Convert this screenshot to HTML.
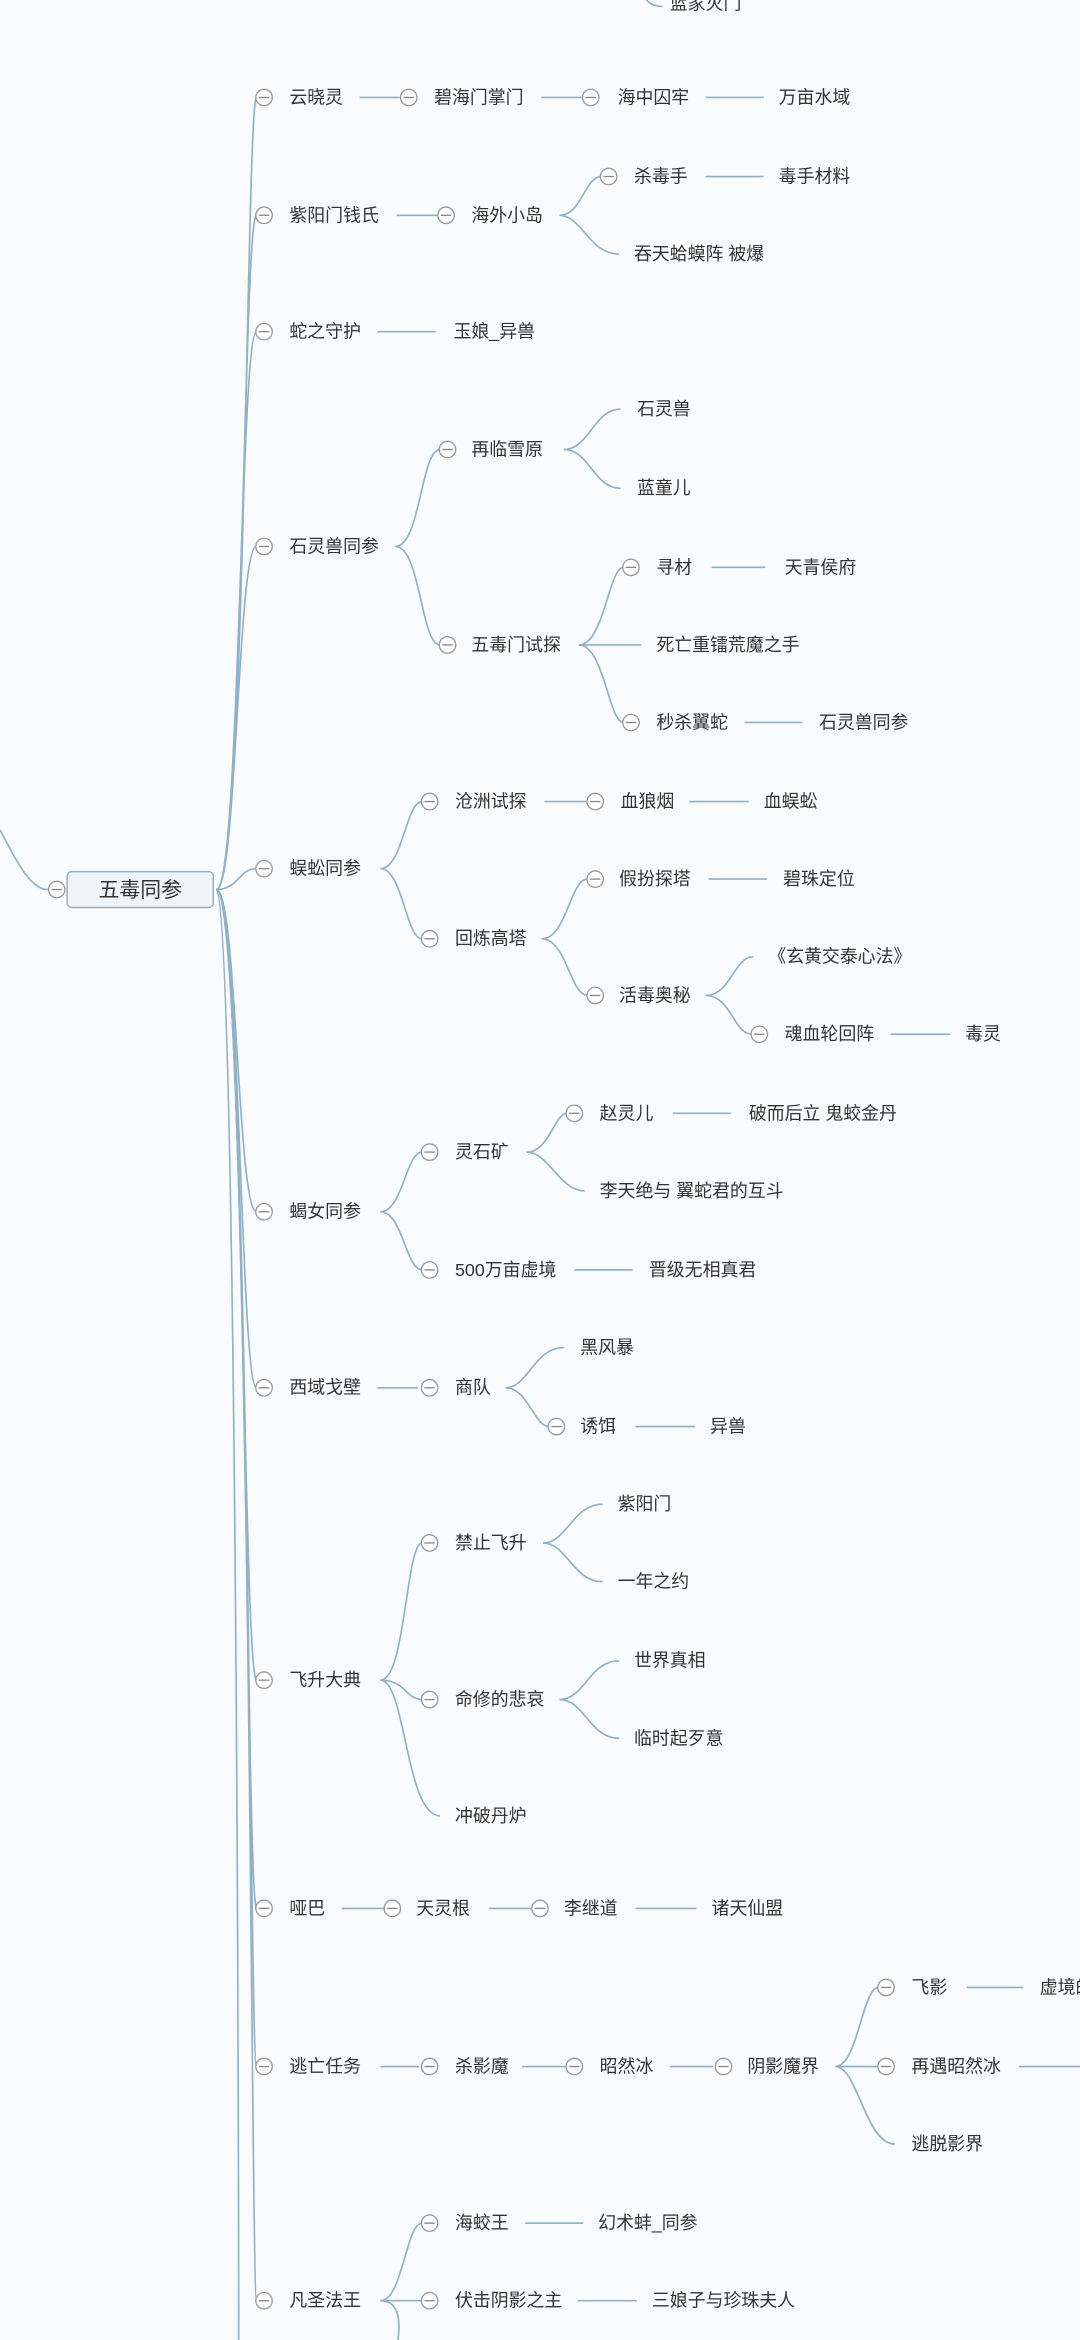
<!DOCTYPE html>
<html><head><meta charset="utf-8"><style>
html,body{margin:0;padding:0;background:#fafbfc;}
svg{display:block}
text{font-family:"Liberation Sans","Noto Sans CJK SC",sans-serif;font-size:12px;fill:#333;}
.l{fill:none;stroke:#8fb0c7;stroke-width:1.1}
.c circle{fill:#fff;stroke:#999;stroke-width:0.9}
.c line{stroke:#888;stroke-width:0.9}
</style></head><body>
<svg width="1080" height="2340" viewBox="0 0 724 1568" xmlns="http://www.w3.org/2000/svg">
<defs><g id="m" class="c"><circle cx="0" cy="0" r="5.5"/><line x1="-3.5" y1="0" x2="3.5" y2="0"/></g></defs>
<!-- top -->
<path class="l" d="M430 -8 C432 0,436 4,444 4"/>
<text x="449" y="6">蓝家灭门</text>
<!-- root left -->
<path class="l" d="M0 556 C10 575,20 596,32 596"/>
<!-- trunk connectors -->
<g class="l">
<path d="M145 596 C165 596,165 65,172 65"/>
<path d="M145 596 C163 596,163 144,172 144"/>
<path d="M145 596 C161 596,161 222,172 222"/>
<path d="M145 596 C159 596,159 366,172 366"/>
<path d="M145 596 C160 596,160 582,172 582"/>
<path d="M145 596 C159 596,159 812,172 812"/>
<path d="M145 596 C161 596,161 930,172 930"/>
<path d="M145 596 C163 596,163 1126,172 1126"/>
<path d="M145 596 C165 596,165 1279,172 1279"/>
<path d="M145 596 C167 596,167 1385,172 1385"/>
<path d="M145 596 C168 596,168 1542,172 1542"/>
<path d="M145 596 C158 596,160 1400,160 1570"/>
</g>
<rect x="45" y="584" width="98" height="24" rx="3" fill="#eef4f8" stroke="#8fb0c7"/>
<text x="94" y="601" text-anchor="middle" style="font-size:14px">五毒同参</text>
<use href="#m" x="38" y="596"/>
<!-- straight lines -->
<g class="l">
<path d="M241 65H268M363 65H390M473 65H512"/>
<path d="M266 144H293M473 118H512"/>
<path d="M253 222H292"/>
<path d="M477 380H513M499 484H538"/>
<path d="M365 537H393M462 537H502M475 589H514M597 693H637"/>
<path d="M451 746H490M385 851H424"/>
<path d="M253 930H280M426 956H466"/>
<path d="M229 1279H257M328 1279H356M426 1279H467"/>
<path d="M255 1385H281M350 1385H379M449 1385H478M648 1332H686M683 1385H724"/>
<path d="M352 1490H391M387 1542H427"/>
</g>
<!-- braces -->
<g class="l">
<path d="M375 144 C390 144,392 118,403 118"/><path d="M375 144 C390 144,395 170,415 170"/>
<path d="M265 366 C282 366,282 301,295 301"/><path d="M265 366 C282 366,282 432,295 432"/>
<path d="M378 301 C395 301,398 274,416 274"/><path d="M378 301 C395 301,398 327,416 327"/>
<path d="M388 432 C405 432,408 380,418 380"/><path d="M388 432H430"/><path d="M388 432 C405 432,408 484,418 484"/>
<path d="M255 582 C270 582,272 537,283 537"/><path d="M255 582 C270 582,272 629,283 629"/>
<path d="M363 629 C380 629,382 589,394 589"/><path d="M363 629 C380 629,382 667,394 667"/>
<path d="M473 667 C490 667,492 641,505 641"/><path d="M473 667 C490 667,492 693,504 693"/>
<path d="M255 812 C270 812,272 772,283 772"/><path d="M255 812 C270 812,272 851,283 851"/>
<path d="M353 772 C368 772,372 746,380 746"/><path d="M353 772 C368 772,375 798,392 798"/>
<path d="M339 930 C354 930,358 903,378 903"/><path d="M339 930 C354 930,358 956,368 956"/>
<path d="M255 1126 C272 1126,272 1034,283 1034"/><path d="M255 1126 C272 1126,272 1139,283 1139"/><path d="M255 1126 C272 1126,272 1217,295 1217"/>
<path d="M364 1034 C380 1034,384 1008,404 1008"/><path d="M364 1034 C380 1034,384 1060,404 1060"/>
<path d="M375 1139 C392 1139,395 1113,415 1113"/><path d="M375 1139 C392 1139,395 1165,415 1165"/>
<path d="M560 1385 C575 1385,578 1332,589 1332"/><path d="M560 1385H589"/><path d="M560 1385 C575 1385,580 1437,600 1437"/>
<path d="M255 1542 C270 1542,272 1490,283 1490"/><path d="M255 1542H283"/><path d="M255 1542 C270 1542,268 1560,266 1575"/>
</g>
<!-- circles -->
<g>
<use href="#m" x="177" y="65"/><use href="#m" x="274" y="65"/><use href="#m" x="396" y="65"/>
<use href="#m" x="177" y="144"/><use href="#m" x="299" y="144"/><use href="#m" x="408" y="118"/>
<use href="#m" x="177" y="222"/>
<use href="#m" x="177" y="366"/><use href="#m" x="300" y="301"/><use href="#m" x="300" y="432"/><use href="#m" x="423" y="380"/><use href="#m" x="423" y="484"/>
<use href="#m" x="177" y="582"/><use href="#m" x="288" y="537"/><use href="#m" x="399" y="537"/><use href="#m" x="288" y="629"/><use href="#m" x="399" y="589"/><use href="#m" x="399" y="667"/><use href="#m" x="509" y="693"/>
<use href="#m" x="177" y="812"/><use href="#m" x="288" y="772"/><use href="#m" x="385" y="746"/><use href="#m" x="288" y="851"/>
<use href="#m" x="177" y="930"/><use href="#m" x="288" y="930"/><use href="#m" x="373" y="956"/>
<use href="#m" x="177" y="1126"/><use href="#m" x="288" y="1034"/><use href="#m" x="288" y="1139"/>
<use href="#m" x="177" y="1279"/><use href="#m" x="263" y="1279"/><use href="#m" x="362" y="1279"/>
<use href="#m" x="177" y="1385"/><use href="#m" x="288" y="1385"/><use href="#m" x="385" y="1385"/><use href="#m" x="485" y="1385"/><use href="#m" x="594" y="1332"/><use href="#m" x="594" y="1385"/>
<use href="#m" x="177" y="1542"/><use href="#m" x="288" y="1490"/><use href="#m" x="288" y="1542"/>
</g>
<!-- texts -->
<g>
<text x="194" y="69">云晓灵</text><text x="291" y="69">碧海门掌门</text><text x="414" y="69">海中囚牢</text><text x="522" y="69">万亩水域</text>
<text x="194" y="148">紫阳门钱氏</text><text x="316" y="148">海外小岛</text><text x="425" y="122">杀毒手</text><text x="522" y="122">毒手材料</text><text x="425" y="174">吞天蛤蟆阵 被爆</text>
<text x="194" y="226">蛇之守护</text><text x="304" y="226">玉娘_异兽</text>
<text x="194" y="370">石灵兽同参</text><text x="316" y="305">再临雪原</text><text x="427" y="278">石灵兽</text><text x="427" y="331">蓝童儿</text>
<text x="316" y="436">五毒门试探</text><text x="440" y="384">寻材</text><text x="526" y="384">天青侯府</text><text x="440" y="436">死亡重镭荒魔之手</text><text x="440" y="488">秒杀翼蛇</text><text x="549" y="488">石灵兽同参</text>
<text x="194" y="586">蜈蚣同参</text><text x="305" y="541">沧洲试探</text><text x="416" y="541">血狼烟</text><text x="512" y="541">血蜈蚣</text>
<text x="305" y="633">回炼高塔</text><text x="415" y="593">假扮探塔</text><text x="525" y="593">碧珠定位</text><text x="415" y="671">活毒奥秘</text><text x="515" y="645">《玄黄交泰心法》</text><text x="526" y="697">魂血轮回阵</text><text x="647" y="697">毒灵</text>
<text x="194" y="816">蝎女同参</text><text x="305" y="776">灵石矿</text><text x="402" y="750">赵灵儿</text><text x="502" y="750">破而后立 鬼蛟金丹</text><text x="402" y="802">李天绝与 翼蛇君的互斗</text>
<text x="305" y="855">500万亩虚境</text><text x="435" y="855">晋级无相真君</text>
<text x="194" y="934">西域戈壁</text><text x="305" y="934">商队</text><text x="389" y="907">黑风暴</text><text x="389" y="960">诱饵</text><text x="476" y="960">异兽</text>
<text x="194" y="1130">飞升大典</text><text x="305" y="1038">禁止飞升</text><text x="414" y="1012">紫阳门</text><text x="414" y="1064">一年之约</text>
<text x="305" y="1143">命修的悲哀</text><text x="425" y="1117">世界真相</text><text x="425" y="1169">临时起歹意</text><text x="305" y="1221">冲破丹炉</text>
<text x="194" y="1283">哑巴</text><text x="279" y="1283">天灵根</text><text x="378" y="1283">李继道</text><text x="477" y="1283">诸天仙盟</text>
<text x="194" y="1389">逃亡任务</text><text x="305" y="1389">杀影魔</text><text x="402" y="1389">昭然冰</text><text x="501" y="1389">阴影魔界</text><text x="611" y="1336">飞影</text><text x="697" y="1336">虚境的</text><text x="611" y="1389">再遇昭然冰</text><text x="611" y="1441">逃脱影界</text>
<text x="194" y="1546">凡圣法王</text><text x="305" y="1494">海蛟王</text><text x="401" y="1494">幻术蚌_同参</text><text x="305" y="1546">伏击阴影之主</text><text x="437" y="1546">三娘子与珍珠夫人</text>
</g>
</svg>
</body></html>
